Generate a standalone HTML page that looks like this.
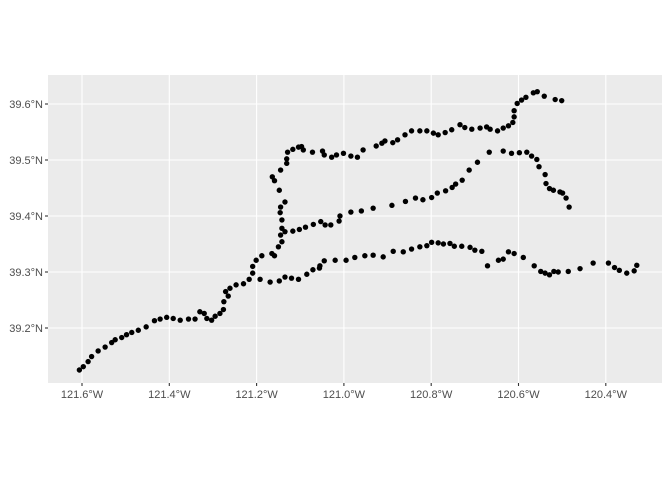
<!DOCTYPE html>
<html><head><meta charset="utf-8"><style>
body{margin:0;background:#fff;}
svg{display:block;font-family:"Liberation Sans",sans-serif;}
</style></head><body>
<svg id="c" width="672" height="480"></svg>
<script>
const xTicks=[-121.6,-121.4,-121.2,-121.0,-120.8,-120.6,-120.4];
const xTickLabels=["121.6°W","121.4°W","121.2°W","121.0°W","120.8°W","120.6°W","120.4°W"];
const yTicks=[39.2,39.3,39.4,39.5,39.6];
const yTickLabels=["39.2°N","39.3°N","39.4°N","39.5°N","39.6°N"];
const lons=[-121.606,-121.597,-121.586,-121.578,-121.563,-121.547,-121.532,-121.524,-121.509,-121.498,-121.486,-121.471,-121.453,-121.434,-121.421,-121.406,-121.391,-121.375,-121.356,-121.341,-121.330,-121.320,-121.314,-121.303,-121.295,-121.284,-121.276,-121.275,-121.271,-121.265,-121.261,-121.247,-121.230,-121.217,-121.209,-121.209,-121.201,-121.188,
-121.165,-121.159,-121.150,-121.142,-121.145,-121.142,-121.142,-121.146,-121.145,-121.135,-121.148,-121.159,-121.164,-121.145,-121.131,-121.131,-121.129,-121.117,-121.104,-121.097,-121.093,-121.072,-121.049,-121.045,-121.028,-121.017,-121.001,-120.984,-120.969,-120.956,-120.926,-120.913,-120.906,-120.888,-120.877,-120.860,-120.845,-120.826,-120.810,-120.795,-120.784,-120.768,-120.753,-120.734,-120.723,-120.707,-120.688,-120.673,-120.665,-120.648,-120.635,-120.623,-120.613,-120.610,-120.610,-120.603,-120.593,-120.583,-120.566,-120.557,-120.541,-120.516,-120.501,
-121.135,-121.117,-121.102,-121.088,-121.070,-121.053,-121.043,-121.030,-121.011,-121.009,-120.984,-120.960,-120.933,-120.890,-120.859,-120.836,-120.819,-120.799,-120.786,-120.767,-120.752,-120.744,-120.729,-120.713,-120.694,-120.667,-120.635,-120.616,-120.598,-120.581,-120.570,-120.558,-120.553,-120.539,-120.537,-120.529,-120.520,-120.505,-120.499,-120.491,-120.484,
-121.192,-121.169,-121.148,-121.135,-121.120,-121.104,-121.085,-121.071,-121.056,-121.055,-121.045,-121.020,-120.995,-120.975,-120.952,-120.933,-120.910,-120.887,-120.864,-120.845,-120.826,-120.810,-120.799,-120.784,-120.772,-120.757,-120.747,-120.730,-120.711,-120.700,-120.684,-120.671,-120.646,-120.635,-120.623,-120.610,-120.589,-120.564,-120.549,-120.539,-120.529,-120.519,-120.509,-120.486,-120.459,-120.429,-120.394,-120.380,-120.369,-120.352,-120.335,-120.329];
const lats=[39.125,39.131,39.140,39.149,39.159,39.166,39.174,39.179,39.183,39.188,39.192,39.196,39.202,39.213,39.216,39.219,39.217,39.214,39.216,39.216,39.229,39.226,39.217,39.214,39.221,39.226,39.233,39.247,39.265,39.257,39.271,39.277,39.279,39.287,39.298,39.310,39.321,39.329,
39.333,39.329,39.345,39.354,39.366,39.378,39.393,39.406,39.416,39.425,39.446,39.463,39.470,39.482,39.494,39.502,39.514,39.519,39.523,39.524,39.518,39.514,39.516,39.509,39.505,39.509,39.512,39.507,39.505,39.518,39.525,39.530,39.534,39.531,39.536,39.545,39.552,39.552,39.552,39.548,39.545,39.549,39.554,39.563,39.558,39.555,39.557,39.559,39.555,39.552,39.557,39.561,39.567,39.577,39.588,39.601,39.607,39.612,39.620,39.622,39.614,39.608,39.606,
39.372,39.373,39.376,39.380,39.385,39.390,39.384,39.384,39.391,39.400,39.407,39.409,39.414,39.419,39.426,39.432,39.429,39.433,39.441,39.445,39.451,39.457,39.464,39.482,39.496,39.514,39.516,39.512,39.513,39.514,39.507,39.501,39.488,39.474,39.458,39.449,39.446,39.443,39.441,39.432,39.416,
39.287,39.282,39.284,39.291,39.289,39.287,39.296,39.304,39.307,39.311,39.320,39.321,39.321,39.326,39.329,39.330,39.327,39.337,39.336,39.341,39.345,39.347,39.353,39.352,39.350,39.351,39.346,39.346,39.344,39.339,39.337,39.311,39.321,39.323,39.336,39.333,39.326,39.311,39.301,39.298,39.295,39.301,39.300,39.301,39.306,39.316,39.316,39.308,39.303,39.298,39.302,39.312];

const NS="http://www.w3.org/2000/svg";
const svg=document.getElementById('c');
const PL=48,PR=662,PT=75,PB=383;
const sx=v=>82+(v+121.6)/0.2*87.3;
const sy=v=>104+(39.6-v)/0.1*56;
function mk(t,a){const e=document.createElementNS(NS,t);for(const k in a)e.setAttribute(k,a[k]);svg.appendChild(e);return e;}
const bg=mk('rect',{x:PL,y:PT,width:PR-PL,height:PB-PT,fill:'#ebebeb'});


xTicks.forEach((t,i)=>{
  const x=sx(t);
  const g=mk('line',{x1:x,x2:x,y1:PT,y2:PB,stroke:'#fff','stroke-width':1.1});
  
  
  const tk=mk('line',{x1:x,x2:x,y1:PB,y2:PB+3,stroke:'#333','stroke-width':1.1});
  
  
  const tx=mk('text',{x:x,y:PB+15,'text-anchor':'middle','font-size':11,fill:'#4d4d4d'});
  tx.textContent=xTickLabels[i];
  
  
});
yTicks.forEach((t,i)=>{
  const y=sy(t);
  const g=mk('line',{x1:PL,x2:PR,y1:y,y2:y,stroke:'#fff','stroke-width':1.1});
  
  
  const tk=mk('line',{x1:PL-3,x2:PL,y1:y,y2:y,stroke:'#333','stroke-width':1.1});
  
  
  const tx=mk('text',{x:PL-5,y:y+4,'text-anchor':'end','font-size':11,fill:'#4d4d4d'});
  tx.textContent=yTickLabels[i];
  
  
});
lons.forEach((v,i)=>{
  const c=mk('circle',{cx:sx(v),cy:sy(lats[i]),r:2.7,fill:'#000'});
  
  
});
</script>
</body></html>
